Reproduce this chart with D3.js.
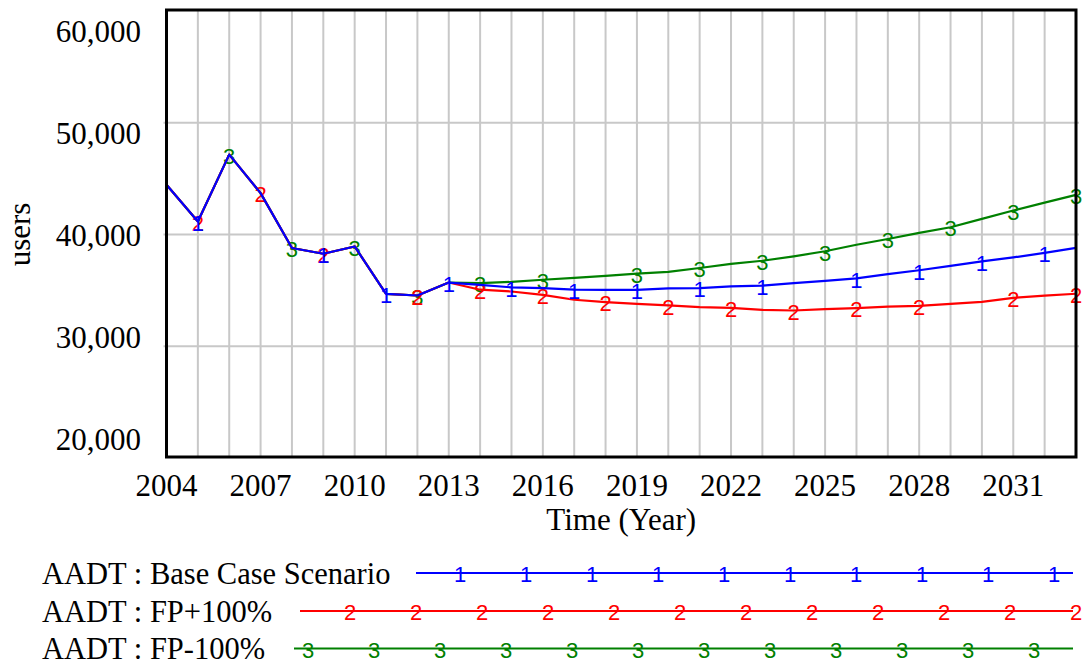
<!DOCTYPE html>
<html>
<head>
<meta charset="utf-8">
<script src="https://cdn.jsdelivr.net/npm/d3@7/dist/d3.min.js"></script>
<style>
  html, body { margin: 0; padding: 0; background: #fff; }
  svg { display: block; }
  .serif { font-family: "Liberation Serif", "Times New Roman", Times, serif; fill: #000; }
  .mark { font-family: "Liberation Sans", Arial, Helvetica, sans-serif; }
</style>
</head>
<body>
<svg id="chart" width="1087" height="666"></svg>
<script>
// ---- data ----
const years = d3.range(2004, 2034);
const yTicks = [20000, 30000, 40000, 50000, 60000];
const xTickLabels = [2004, 2007, 2010, 2013, 2016, 2019, 2022, 2025, 2028, 2031];

const history = [44450, 41170, 47150, 43700, 38790, 38280, 38930, 34690, 34540, 35700];
const baseCase = history.concat([35500, 35270, 35200, 35060, 35050, 35050, 35180, 35200, 35350, 35430,
                                 35650, 35850, 36080, 36450, 36800, 37200, 37600, 37950, 38350, 38800]);
const fpPlus = history.concat([35060, 34900, 34600, 34160, 33950, 33800, 33650, 33500, 33430, 33260,
                               33200, 33330, 33420, 33550, 33620, 33800, 33970, 34330, 34530, 34700]);
const fpMinus = history.concat([35650, 35760, 35950, 36110, 36300, 36500, 36650, 37000, 37370, 37650,
                                38050, 38500, 39080, 39600, 40150, 40650, 41400, 42150, 42850, 43550]);

const seriesNames = ["AADT : Base Case Scenario", "AADT : FP+100%", "AADT : FP-100%"];
const seriesIds = ["1", "2", "3"];
const markerYears1 = [2005, 2009, 2011, 2013, 2015, 2017, 2019, 2021, 2023, 2026, 2028, 2030, 2032];
const markerYears2 = [2005, 2007, 2009, 2012, 2014, 2016, 2018, 2020, 2022, 2024, 2026, 2028, 2031, 2033];
const markerYears3 = [2006, 2008, 2010, 2012, 2014, 2016, 2019, 2021, 2023, 2025, 2027, 2029, 2031, 2033];

// ---- layout ----
const colors = ["#0000ff", "#ff0000", "#008000"];
const plot = { left: 166.5, right: 1076, top: 11, bottom: 458 };

const svg = d3.select("#chart");
const x = d3.scaleLinear().domain([2004, 2033]).range([plot.left, plot.right]);
const y = d3.scaleLinear().domain([20000, 60000]).range([plot.bottom, plot.top]);
// Vensim-style label placement: labels evenly spread slightly inside the frame
const yLab = d3.scaleLinear().domain([20000, 60000]).range([plot.bottom - 8.5, plot.top + 31]);

// grid
const grid = svg.append("g").attr("stroke", "#c8c8c8").attr("stroke-width", 2);
grid.selectAll("line.v").data(years.slice(1, -1)).join("line")
  .attr("x1", d => x(d)).attr("x2", d => x(d))
  .attr("y1", plot.top).attr("y2", plot.bottom);
grid.selectAll("line.h").data(yTicks.slice(1, -1)).join("line")
  .attr("x1", plot.left - 3).attr("x2", plot.right + 3)
  .attr("y1", d => y(d)).attr("y2", d => y(d));

// y tick labels
svg.append("g").selectAll("text").data(yTicks).join("text")
  .attr("class", "serif")
  .attr("x", 141).attr("y", d => yLab(d))
  .attr("text-anchor", "end")
  .attr("font-size", 31)
  .text(d => d3.format(",")(d));

// x tick labels
svg.append("g").selectAll("text").data(xTickLabels).join("text")
  .attr("class", "serif")
  .attr("x", d => x(d)).attr("y", 496)
  .attr("text-anchor", "middle")
  .attr("font-size", 31)
  .text(d => d);

// axis titles
svg.append("text").attr("class", "serif")
  .attr("x", (plot.left + plot.right) / 2).attr("y", 530)
  .attr("text-anchor", "middle").attr("font-size", 31)
  .text("Time (Year)");
svg.append("text").attr("class", "serif")
  .attr("transform", `translate(30,${(plot.top + plot.bottom) / 2}) rotate(-90)`)
  .attr("text-anchor", "middle").attr("font-size", 31)
  .text("users");

// series
const allSeries = [
  { vals: baseCase, marks: markerYears1 },
  { vals: fpPlus, marks: markerYears2 },
  { vals: fpMinus, marks: markerYears3 }
];
const line = d3.line().x((d, i) => x(years[i])).y(d => y(d));
const drawOrder = [2, 1, 0];
drawOrder.forEach(k => {
  const s = allSeries[k];
  const g = svg.append("g");
  g.append("path").datum(s.vals)
    .attr("d", line).attr("fill", "none")
    .attr("stroke", colors[k]).attr("stroke-width", 2.2)
    .attr("stroke-linejoin", "round");
  g.selectAll("text").data(s.marks).join("text")
    .attr("class", "mark")
    .attr("x", d => x(d))
    .attr("y", d => y(s.vals[years.indexOf(d)]))
    .attr("dy", "0.42em")
    .attr("text-anchor", "middle")
    .attr("font-size", 22)
    .attr("fill", colors[k])
    .text(seriesIds[k]);
});

// frame
svg.append("rect")
  .attr("x", plot.left).attr("y", plot.top - 1)
  .attr("width", plot.right - plot.left).attr("height", plot.bottom - plot.top)
  .attr("fill", "none").attr("stroke", "#000").attr("stroke-width", 3);

// legend
const legRows = [
  { textY: 584, lineY: 573, x0: 416, m0: 460, n: 10 },
  { textY: 622, lineY: 611, x0: 300, m0: 350, n: 12 },
  { textY: 659, lineY: 648.5, x0: 294, m0: 308, n: 12 }
];
legRows.forEach((r, k) => {
  const g = svg.append("g");
  g.append("text").attr("class", "serif")
    .attr("x", 42).attr("y", r.textY).attr("font-size", 30.5)
    .text(seriesNames[k]);
  g.append("line")
    .attr("x1", r.x0).attr("x2", 1073)
    .attr("y1", r.lineY).attr("y2", r.lineY)
    .attr("stroke", colors[k]).attr("stroke-width", 2.2);
  g.selectAll("text.m").data(d3.range(r.n)).join("text")
    .attr("class", "mark")
    .attr("x", i => r.m0 + i * 66)
    .attr("y", r.lineY).attr("dy", "0.42em")
    .attr("text-anchor", "middle").attr("font-size", 22)
    .attr("fill", colors[k])
    .text(seriesIds[k]);
});
</script>
</body>
</html>
